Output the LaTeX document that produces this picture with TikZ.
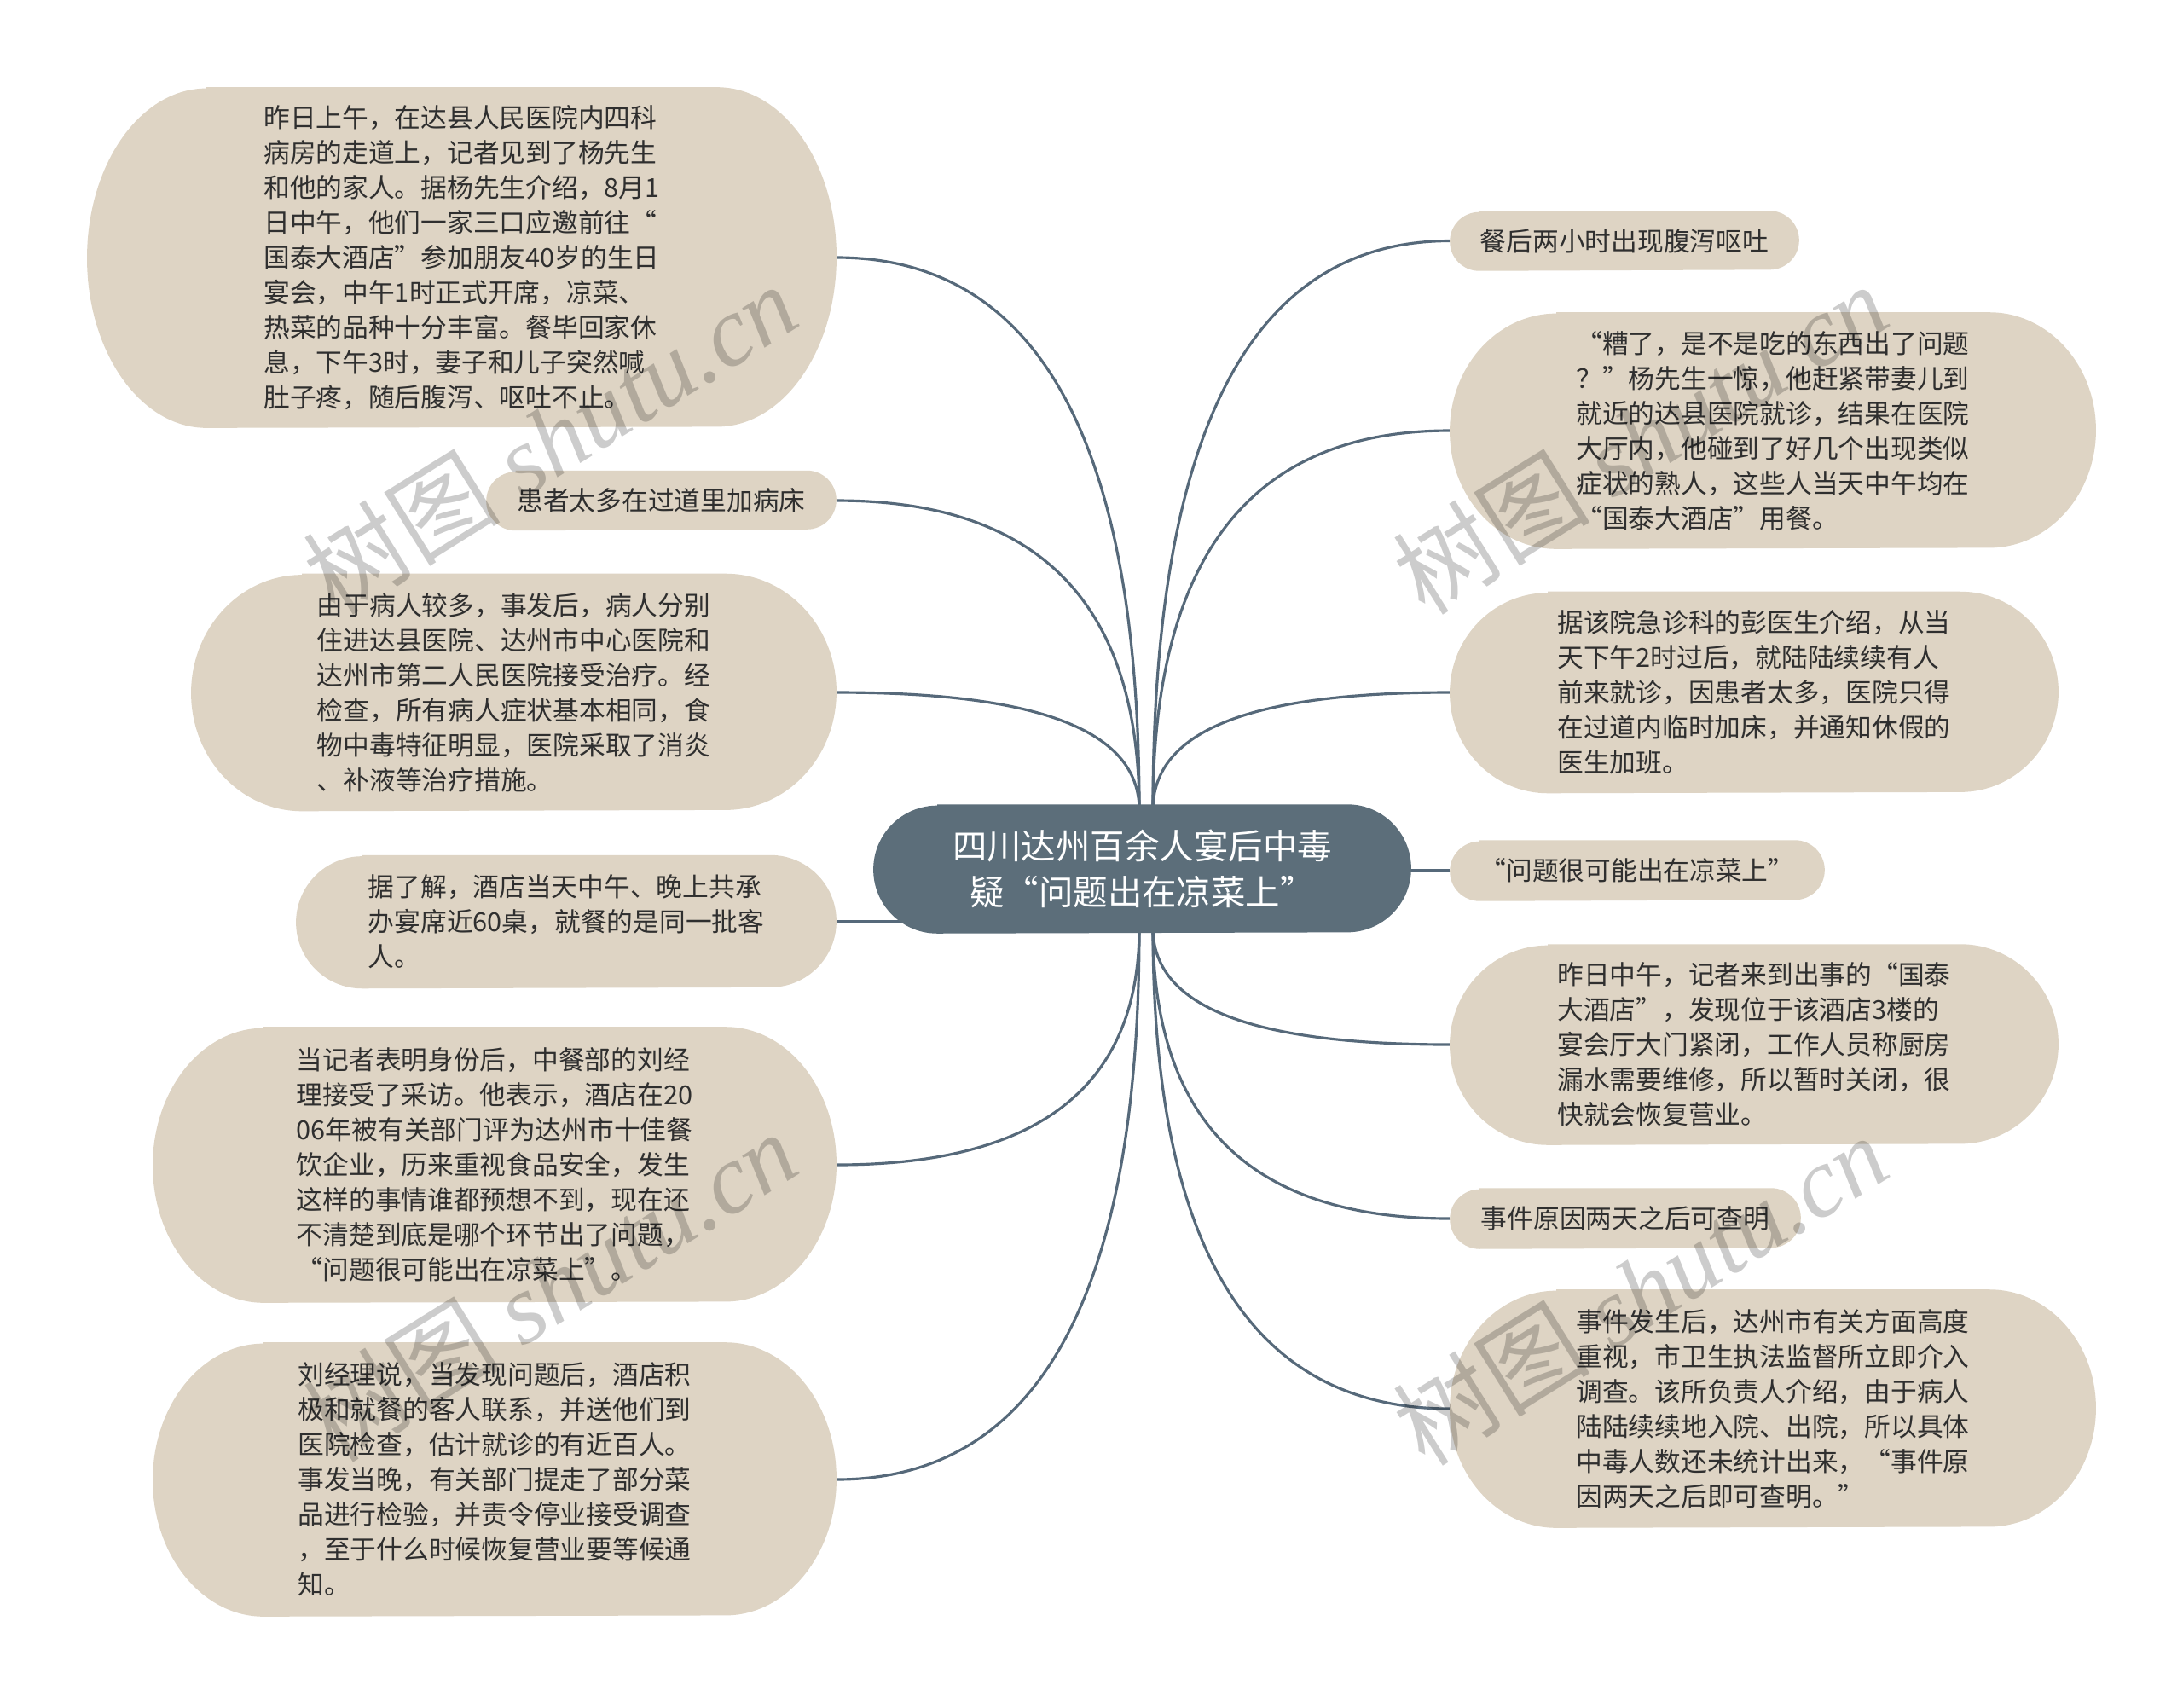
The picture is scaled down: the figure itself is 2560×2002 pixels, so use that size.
\documentclass[tikz,border=0pt]{standalone}
\usepackage{fontspec}
\setmainfont{Noto Sans CJK SC}
\newfontfamily\wmlatin{Liberation Serif}
\usetikzlibrary{backgrounds}
\definecolor{beige}{HTML}{DED4C4}
\definecolor{slate}{HTML}{5C6E7A}
\definecolor{linec}{HTML}{56697A}
\definecolor{txt}{HTML}{2F2F2F}
\newcommand\pillfill[4]{%
  \fill[#1] ([xshift=#3cm]#2.north west) -- ([xshift=-#3cm]#2.north east)
    arc[start angle=90,end angle=-90,x radius=#3cm,y radius=#4cm]
    -- ([xshift=#3cm]#2.south west)
    arc[start angle=270,end angle=90,x radius=#3cm,y radius=#4cm] -- cycle;}
\begin{document}
\begin{tikzpicture}[x=0.01cm,y=-0.01cm,
  box/.style={inner sep=0pt, align=left, text=txt, font=\fontsize{8.74pt}{11.67pt}\selectfont},
  hub/.style={inner sep=0pt, align=center, text=white, font=\fontsize{11.5pt}{15.4pt}\selectfont},
  conn/.style={draw=linec, line width=0.9pt},
  wm/.style={text=black, opacity=0.2, inner sep=0pt, font=\fontsize{33pt}{33pt}\selectfont}]
\useasboundingbox (0,0) rectangle (2560,2002);

% central topic
\node[hub, minimum width=6.29cm, minimum height=1.5cm] (C) at (1339.5,1019) {四川达州百余人宴后中毒\\疑“问题出在凉菜上”};

% left branch
\node[box, minimum width=8.77cm, minimum height=3.98cm] (L1) at (541.5,302) {昨日上午，在达县人民医院内四科\\病房的走道上，记者见到了杨先生\\和他的家人。据杨先生介绍，8月1\\日中午，他们一家三口应邀前往“\\国泰大酒店”参加朋友40岁的生日\\宴会，中午1时正式开席，凉菜、\\热菜的品种十分丰富。餐毕回家休\\息，下午3时，妻子和儿子突然喊\\肚子疼，随后腹泻、呕吐不止。};
\node[box, minimum width=4.09cm, minimum height=0.69cm] (L2) at (775.5,587) {患者太多在过道里加病床};
\node[box, minimum width=7.55cm, minimum height=2.77cm] (L3) at (602.5,812) {由于病人较多，事发后，病人分别\\住进达县医院、达州市中心医院和\\达州市第二人民医院接受治疗。经\\检查，所有病人症状基本相同，食\\物中毒特征明显，医院采取了消炎\\、补液等治疗措施。};
\node[box, minimum width=6.32cm, minimum height=1.55cm] (L4) at (664,1081) {据了解，酒店当天中午、晚上共承\\办宴席近60桌，就餐的是同一批客\\人。};
\node[box, minimum width=8.0cm, minimum height=3.22cm] (L5) at (580,1366) {当记者表明身份后，中餐部的刘经\\理接受了采访。他表示，酒店在20\\06年被有关部门评为达州市十佳餐\\饮企业，历来重视食品安全，发生\\这样的事情谁都预想不到，现在还\\不清楚到底是哪个环节出了问题，\\“问题很可能出在凉菜上”。};
\node[box, minimum width=8.0cm, minimum height=3.2cm] (L6) at (580,1735) {刘经理说，当发现问题后，酒店积\\极和就餐的客人联系，并送他们到\\医院检查，估计就诊的有近百人。\\事发当晚，有关部门提走了部分菜\\品进行检验，并责令停业接受调查\\，至于什么时候恢复营业要等候通\\知。};

% right branch
\node[box, minimum width=4.08cm, minimum height=0.69cm] (R1) at (1905,282.5) {餐后两小时出现腹泻呕吐};
\node[box, minimum width=7.56cm, minimum height=2.76cm] (R2) at (2079,505) {“糟了，是不是吃的东西出了问题\\？”杨先生一惊，他赶紧带妻儿到\\就近的达县医院就诊，结果在医院\\大厅内，他碰到了好几个出现类似\\症状的熟人，这些人当天中午均在\\“国泰大酒店”用餐。};
\node[box, minimum width=7.12cm, minimum height=2.35cm] (R3) at (2057,812) {据该院急诊科的彭医生介绍，从当\\天下午2时过后，就陆陆续续有人\\前来就诊，因患者太多，医院只得\\在过道内临时加床，并通知休假的\\医生加班。};
\node[box, minimum width=4.38cm, minimum height=0.7cm] (R4) at (1920,1021) {“问题很可能出在凉菜上”};
\node[box, minimum width=7.12cm, minimum height=2.34cm] (R5) at (2057,1225) {昨日中午，记者来到出事的“国泰\\大酒店”，发现位于该酒店3楼的\\宴会厅大门紧闭，工作人员称厨房\\漏水需要维修，所以暂时关闭，很\\快就会恢复营业。};
\node[box, minimum width=4.1cm, minimum height=0.7cm] (R6) at (1906,1429) {事件原因两天之后可查明};
\node[box, minimum width=7.56cm, minimum height=2.78cm] (R7) at (2079,1652) {事件发生后，达州市有关方面高度\\重视，市卫生执法监督所立即介入\\调查。该所负责人介绍，由于病人\\陆陆续续地入院、出院，所以具体\\中毒人数还未统计出来，“事件原\\因两天之后即可查明。”};

\coordinate (ctl) at (1336,950);
\coordinate (cbl) at (1336,1088);
\coordinate (ctr) at (1352,950);
\coordinate (cbr) at (1352,1088);

\begin{scope}[on background layer]
  \fill[white] (0,0) rectangle (2560,2002);
  % connectors
  \draw[conn] (ctl) .. controls (1336,516) and (1217,302) .. (L1.east);
  \draw[conn] (ctl) .. controls (1336,706) and (1217,587) .. (L2.east);
  \draw[conn] (ctl) .. controls (1336,856) and (1217,812) .. (L3.east);
  \draw[conn] (L4.east) -- (L4.east -| C.center);
  \draw[conn] (cbl) .. controls (1336,1275) and (1217,1366) .. (L5.east);
  \draw[conn] (cbl) .. controls (1336,1521) and (1217,1735) .. (L6.east);
  \draw[conn] (ctr) .. controls (1352,503) and (1468,282.5) .. (R1.west);
  \draw[conn] (ctr) .. controls (1352,651) and (1468,505) .. (R2.west);
  \draw[conn] (ctr) .. controls (1352,856) and (1468,812) .. (R3.west);
  \draw[conn] (R4.west -| C.center) -- (R4.west);
  \draw[conn] (cbr) .. controls (1352,1181) and (1468,1225) .. (R5.west);
  \draw[conn] (cbr) .. controls (1352,1317) and (1468,1429) .. (R6.west);
  \draw[conn] (cbr) .. controls (1352,1466) and (1468,1652) .. (R7.west);
  % node shapes
  \pillfill{slate}{C}{0.75}{0.75}
  \pillfill{beige}{L1}{1.40}{1.99}
  \pillfill{beige}{L2}{0.345}{0.345}
  \pillfill{beige}{L3}{1.30}{1.385}
  \pillfill{beige}{L4}{0.775}{0.775}
  \pillfill{beige}{L5}{1.30}{1.61}
  \pillfill{beige}{L6}{1.30}{1.60}
  \pillfill{beige}{R1}{0.345}{0.345}
  \pillfill{beige}{R2}{1.25}{1.38}
  \pillfill{beige}{R3}{1.15}{1.175}
  \pillfill{beige}{R4}{0.35}{0.35}
  \pillfill{beige}{R5}{1.15}{1.17}
  \pillfill{beige}{R6}{0.35}{0.35}
  \pillfill{beige}{R7}{1.25}{1.39}
\end{scope}

% watermarks
\node[wm, rotate=32] (W1) at (645,514) {树图 {\wmlatin\itshape shutu.cn}};
\node[wm, rotate=32] (W2) at (1923,514) {树图 {\wmlatin\itshape shutu.cn}};
\node[wm, rotate=32] (W3) at (645,1508) {树图 {\wmlatin\itshape shutu.cn}};
\node[wm, rotate=32] (W4) at (1923,1512) {树图 {\wmlatin\itshape shutu.cn}};
\end{tikzpicture}
\end{document}
